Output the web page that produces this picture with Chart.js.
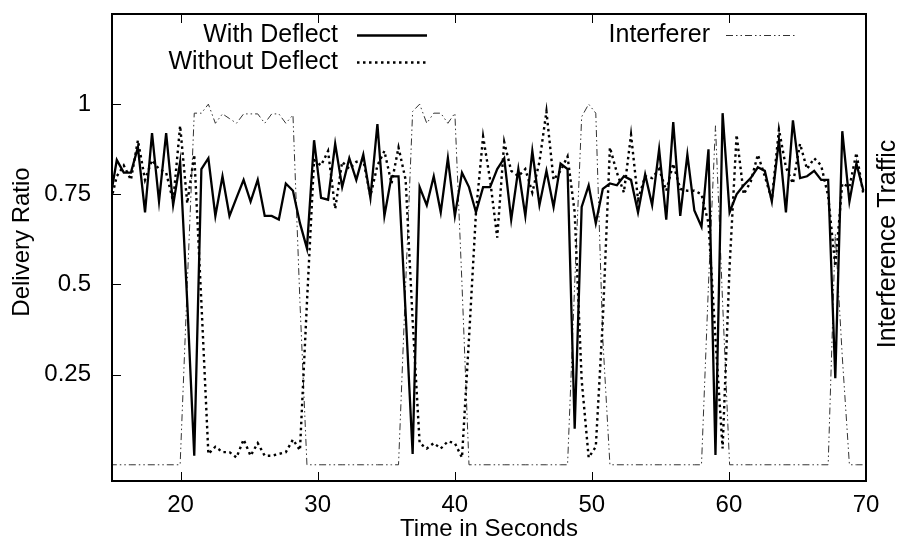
<!DOCTYPE html>
<html>
<head>
<meta charset="utf-8">
<title>Delivery Ratio with and without Deflect</title>
<script src="https://cdn.jsdelivr.net/npm/chart.js@4.4.0/dist/chart.umd.min.js"></script>
<style>
  html, body { margin: 0; padding: 0; background: #fff; }
  #wrap { width: 904px; height: 544px; }
</style>
</head>
<body>
<div id="wrap"><canvas id="chart" width="904" height="544"></canvas></div>
<script>
// sample times in seconds (one sample about every 0.51 s)
const times = [
  14.84, 15.35, 15.86, 16.38, 16.89, 17.41, 17.92, 18.43, 18.95, 19.46,
  19.97, 20.49, 21.00, 21.52, 22.03, 22.54, 23.06, 23.57, 24.08, 24.60,
  25.11, 25.63, 26.14, 26.65, 27.17, 27.68, 28.20, 28.71, 29.22, 29.74,
  30.25, 30.76, 31.28, 31.79, 32.31, 32.82, 33.33, 33.85, 34.36, 34.87,
  35.39, 35.90, 36.42, 36.93, 37.44, 37.96, 38.47, 38.98, 39.50, 40.01,
  40.53, 41.04, 41.55, 42.07, 42.58, 43.10, 43.61, 44.12, 44.64, 45.15,
  45.66, 46.18, 46.69, 47.21, 47.72, 48.23, 48.75, 49.26, 49.77, 50.29,
  50.80, 51.32, 51.83, 52.34, 52.86, 53.37, 53.89, 54.40, 54.91, 55.43,
  55.94, 56.45, 56.97, 57.48, 58.00, 58.51, 59.02, 59.54, 60.05, 60.56,
  61.08, 61.59, 62.11, 62.62, 63.13, 63.65, 64.16, 64.67, 65.19, 65.70,
  66.22, 66.73, 67.24, 67.76, 68.27, 68.79, 69.30, 69.81
];

const withDeflect = [
  0.73, 0.845, 0.81, 0.81, 0.88, 0.70, 0.92, 0.73, 0.92, 0.72,
  0.84, 0.45, 0.025, 0.82, 0.85, 0.69, 0.80, 0.69, 0.74, 0.79,
  0.73, 0.79, 0.69, 0.69, 0.68, 0.78, 0.76, 0.67, 0.60, 0.90,
  0.74, 0.735, 0.89, 0.77, 0.85, 0.79, 0.86, 0.74, 0.945, 0.69,
  0.80, 0.80, 0.42, 0.03, 0.77, 0.72, 0.80, 0.70, 0.85, 0.69,
  0.81, 0.77, 0.70, 0.77, 0.77, 0.82, 0.85, 0.68, 0.82, 0.69,
  0.87, 0.72, 0.815, 0.715, 0.835, 0.82, 0.10, 0.715, 0.775, 0.67,
  0.765, 0.78, 0.775, 0.80, 0.79, 0.70, 0.805, 0.72, 0.875, 0.68,
  0.95, 0.69, 0.86, 0.705, 0.66, 0.875, 0.027, 0.975, 0.70, 0.75,
  0.775, 0.795, 0.825, 0.815, 0.73, 0.90, 0.70, 0.955, 0.795, 0.80,
  0.815, 0.79, 0.79, 0.24, 0.925, 0.73, 0.835, 0.76
];

const withoutDeflect = [
  0.72, 0.80, 0.83, 0.79, 0.90, 0.79, 0.845, 0.82, 0.81, 0.73,
  0.94, 0.725, 0.86, 0.45, 0.03, 0.05, 0.035, 0.035, 0.02, 0.07,
  0.025, 0.06, 0.025, 0.025, 0.03, 0.035, 0.07, 0.04, 0.45, 0.845,
  0.83, 0.87, 0.71, 0.84, 0.82, 0.84, 0.845, 0.745, 0.83, 0.87,
  0.78, 0.88, 0.79, 0.40, 0.06, 0.045, 0.06, 0.045, 0.065, 0.06,
  0.02, 0.35, 0.70, 0.91, 0.79, 0.63, 0.895, 0.815, 0.80, 0.82,
  0.755, 0.84, 0.98, 0.79, 0.815, 0.855, 0.70, 0.235, 0.02, 0.05,
  0.40, 0.88, 0.81, 0.755, 0.915, 0.735, 0.80, 0.795, 0.82, 0.76,
  0.835, 0.765, 0.76, 0.76, 0.75, 0.67, 0.35, 0.045, 0.55, 0.915,
  0.75, 0.785, 0.86, 0.80, 0.735, 0.93, 0.825, 0.78, 0.89, 0.82,
  0.85, 0.83, 0.745, 0.55, 0.78, 0.77, 0.865, 0.75
];

const interferer = [
  0, 0, 0, 0, 0, 0, 0, 0, 0, 0,
  0, 0.50, 0.975, 0.975, 1.0, 0.947, 0.973, 0.96, 0.947, 0.973,
  0.973, 0.973, 0.947, 0.973, 0.973, 0.947, 0.97, 0.45, 0, 0,
  0, 0, 0, 0, 0, 0, 0, 0, 0, 0,
  0, 0, 0.50, 0.98, 1.0, 0.947, 0.975, 0.975, 0.947, 0.975,
  0.50, 0, 0, 0, 0, 0, 0, 0, 0, 0,
  0, 0, 0, 0, 0, 0, 0.50, 0.965, 1.0, 0.975,
  0.35, 0, 0, 0, 0, 0, 0, 0, 0, 0,
  0, 0, 0, 0, 0, 0.50, 0.94, 0.45, 0, 0,
  0, 0, 0, 0, 0, 0, 0, 0, 0, 0,
  0, 0, 0, 0.64, 0.30, 0, 0, 0
];

const xTicks = [20, 30, 40, 50, 60, 70];
const yTicks = [0.25, 0.5, 0.75, 1];

const FONT = '"Liberation Sans", Arial, Helvetica, sans-serif';
Chart.defaults.font.family = FONT;
Chart.defaults.font.size = 24;
Chart.defaults.color = '#000';

function pts(vals) {
  return times.map((t, i) => ({ x: t, y: vals[i] }));
}

// axis boxes of fixed size, no extra label padding around the plot
function fixVertical(width) {
  return s => { s.width = width; s.paddingTop = 0; s.paddingBottom = 0; };
}

function upText(ctx, text, x, y) {
  ctx.save();
  ctx.translate(x, y);
  ctx.rotate(-Math.PI / 2);
  ctx.textAlign = 'center';
  ctx.textBaseline = 'middle';
  ctx.fillText(text, 0, 0);
  ctx.restore();
}

// box around the plot, inward ticks, gnuplot style key and side labels
const gnuplotFrame = {
  id: 'gnuplotFrame',
  afterDraw(chart) {
    const { ctx, chartArea: a, scales } = chart;
    ctx.save();
    ctx.strokeStyle = '#000';
    ctx.lineWidth = 1;
    ctx.beginPath();
    scales.x.ticks.forEach(t => {
      const px = Math.round(scales.x.getPixelForValue(t.value)) + 0.5;
      ctx.moveTo(px, a.bottom); ctx.lineTo(px, a.bottom - 9);
      ctx.moveTo(px, a.top); ctx.lineTo(px, a.top + 9);
    });
    scales.y.ticks.forEach(t => {
      const py = Math.round(scales.y.getPixelForValue(t.value)) + 0.5;
      ctx.moveTo(a.left, py); ctx.lineTo(a.left + 9, py);
    });
    ctx.stroke();
    ctx.lineWidth = 2;
    ctx.strokeRect(a.left, a.top, a.right - a.left, a.bottom - a.top);

    // key
    const key = [
      { ds: 0, textRight: 338, y: 35, x0: 357, x1: 427 },
      { ds: 1, textRight: 338, y: 62, x0: 357, x1: 427 },
      { ds: 2, textRight: 710, y: 35, x0: 726, x1: 796 }
    ];
    ctx.font = '25px ' + FONT;
    ctx.textAlign = 'right';
    ctx.textBaseline = 'middle';
    ctx.fillStyle = '#000';
    key.forEach(k => {
      const ds = chart.data.datasets[k.ds];
      ctx.fillText(ds.label, k.textRight, k.y);
      ctx.beginPath();
      ctx.strokeStyle = ds.borderColor;
      ctx.lineWidth = ds.borderWidth;
      ctx.setLineDash(ds.borderDash || []);
      ctx.moveTo(k.x0, k.y + 0.5);
      ctx.lineTo(k.x1, k.y + 0.5);
      ctx.stroke();
    });
    ctx.setLineDash([]);

    // axis labels on both sides, reading upwards
    ctx.font = '24px ' + FONT;
    upText(ctx, 'Delivery Ratio', 22, 242);
    ctx.font = '25px ' + FONT;
    upText(ctx, 'Interference Traffic', 888, 244);
    ctx.restore();
  }
};

const ctx = document.getElementById('chart').getContext('2d');
new Chart(ctx, {
  type: 'line',
  data: {
    datasets: [
      {
        label: 'With Deflect',
        data: pts(withDeflect),
        borderColor: '#000',
        borderWidth: 2.3,
        pointRadius: 0,
        tension: 0,
        clip: 0,
        yAxisID: 'y'
      },
      {
        label: 'Without Deflect',
        data: pts(withoutDeflect),
        borderColor: '#000',
        borderWidth: 2.4,
        borderDash: [2.5, 3.5],
        pointRadius: 0,
        tension: 0,
        clip: 0,
        yAxisID: 'y'
      },
      {
        label: 'Interferer',
        data: pts(interferer),
        borderColor: '#333',
        borderWidth: 1,
        borderDash: [7, 3, 1.5, 3, 1.5, 3],
        pointRadius: 0,
        tension: 0,
        clip: 0,
        yAxisID: 'y2'
      }
    ]
  },
  options: {
    responsive: false,
    animation: false,
    events: [],
    layout: { padding: { top: 14, left: 0, right: 0, bottom: 0 } },
    plugins: {
      legend: { display: false },
      tooltip: { enabled: false }
    },
    scales: {
      x: {
        type: 'linear',
        min: 15,
        max: 70,
        afterBuildTicks: s => { s.ticks = xTicks.map(v => ({ value: v })); },
        afterFit: s => { s.height = 63; s.paddingLeft = 0; s.paddingRight = 0; },
        grid: { display: false, drawTicks: false },
        border: { display: false },
        ticks: { padding: 10, maxRotation: 0, autoSkip: false },
        title: { display: true, text: 'Time in Seconds', padding: { top: 0, bottom: 0 } }
      },
      y: {
        min: -0.045,
        max: 1.25,
        afterBuildTicks: s => { s.ticks = yTicks.map(v => ({ value: v })); },
        afterFit: fixVertical(112),
        grid: { display: false, drawTicks: false },
        border: { display: false },
        ticks: { padding: 21, callback: v => String(v) },
        title: { display: false, text: 'Delivery Ratio' }
      },
      y2: {
        position: 'right',
        min: -0.045,
        max: 1.25,
        afterFit: fixVertical(38),
        grid: { display: false, drawTicks: false },
        border: { display: false },
        ticks: { display: false },
        title: { display: false, text: 'Interference Traffic' }
      }
    }
  },
  plugins: [gnuplotFrame]
});
</script>
</body>
</html>
